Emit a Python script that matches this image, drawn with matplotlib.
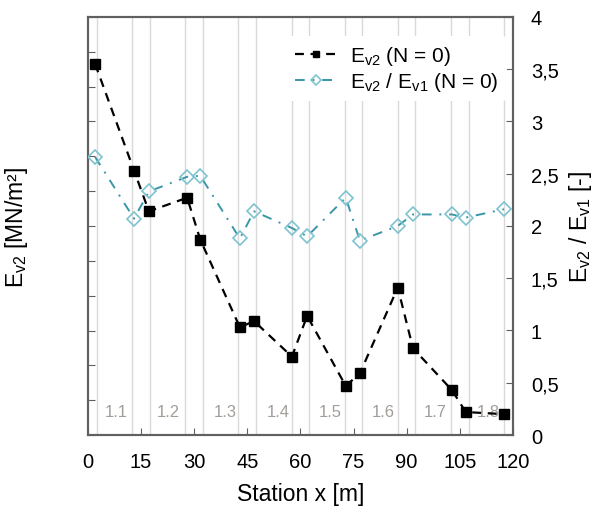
import numpy as np
import matplotlib
matplotlib.use("Agg")
import matplotlib.pyplot as plt
from matplotlib.ticker import FuncFormatter

plt.rcParams["font.family"] = ["Liberation Sans", "DejaVu Sans"]
plt.rcParams["mathtext.fontset"] = "custom"
plt.rcParams["mathtext.rm"] = "Liberation Sans"

# data
station = [2.0, 13.0, 17.2, 28.0, 31.7, 42.9, 46.9, 57.6, 61.9, 72.8, 76.8, 87.5, 91.8, 102.8, 106.7, 117.5]
ev2 = [3.55, 2.53, 2.14, 2.27, 1.87, 1.03, 1.09, 0.75, 1.14, 0.47, 0.59, 1.41, 0.83, 0.43, 0.22, 0.20]
ratio = [2.66, 2.07, 2.33, 2.47, 2.48, 1.88, 2.14, 1.98, 1.90, 2.27, 1.86, 2.00, 2.11, 2.11, 2.08, 2.16]
section_lines = [2.5, 12.5, 17.5, 27.5, 32.5, 42.5, 47.5, 57.5, 62.5, 72.5, 77.5, 87.5, 92.5, 102.5, 107.5, 117.5]
section_names = ["1.1", "1.2", "1.3", "1.4", "1.5", "1.6", "1.7", "1.8"]
section_pos = [8, 22.6, 38.8, 53.6, 68.3, 83.3, 98, 113]

spine_col = "#606060"
teal = "#3a96a8"
teal_light = "#7fc3cf"

fig = plt.figure(figsize=(6, 5.1), dpi=100)
ax = fig.add_axes([0.1467, 0.145, 0.708, 0.82])
ax2 = ax.twinx()

for x in section_lines:
    ax.axvline(x, color="#d9d9d9", lw=1.0, zorder=0)

ax.set_xlim(0, 120)
ax.set_ylim(0, 12)
ax.set_xticks(np.arange(0, 121, 15))
ax.set_yticks(np.arange(0, 13, 1))
ax.set_yticklabels([])
ax.tick_params(axis="x", direction="in", length=5, color=spine_col, labelsize=14.5, pad=12)
ax.tick_params(axis="y", direction="in", length=5, color=spine_col)
ax.set_xlabel("Station x [m]", fontsize=16.5, labelpad=8)
ax.set_ylabel("E$_\\mathregular{v2}$ [MN/m²]", fontsize=16.5, labelpad=38)

ax2.set_ylim(0, 4)
ax2.set_yticks(np.arange(0, 4.01, 0.5))
ax2.yaxis.set_major_formatter(FuncFormatter(lambda v, p: ("%g" % v).replace(".", ",")))
ax2.tick_params(axis="y", direction="in", length=5, color=spine_col, labelsize=14.5, pad=13)
ax2.set_ylabel("E$_\\mathregular{v2}$ / E$_\\mathregular{v1}$ [-]", fontsize=16.5, labelpad=6)

for a in (ax, ax2):
    for s in a.spines.values():
        s.set_color(spine_col)
        s.set_linewidth(1.5)

for name, x in zip(section_names, section_pos):
    ax2.text(x, 0.23, name, color="#a39d98", fontsize=12, ha="center", va="center", zorder=1)

ax2.plot(station, ev2, color="black", ls=(0, (4, 3)), lw=1.6, marker="s",
         markersize=6.5, label="E$_\\mathregular{v2}$ (N = 0)", zorder=3)
ax2.plot(station, ratio, color=teal, ls=(0, (5, 4, 1, 4)), lw=1.4, marker="D",
         markersize=7, markerfacecolor="none", markeredgecolor=teal_light, markeredgewidth=1.2,
         label="E$_\\mathregular{v2}$ / E$_\\mathregular{v1}$ (N = 0)", zorder=4)

leg = ax2.legend(loc="upper right", bbox_to_anchor=(1.0, 0.97), fontsize=15, frameon=True,
                 handlelength=2.0, handletextpad=0.6, borderaxespad=0.3, labelspacing=0.15,
                 markerscale=0.75)
leg.get_frame().set_edgecolor("none")
leg.get_frame().set_facecolor("white")
leg.get_frame().set_alpha(1.0)

fig.savefig("out.png", dpi=100)
